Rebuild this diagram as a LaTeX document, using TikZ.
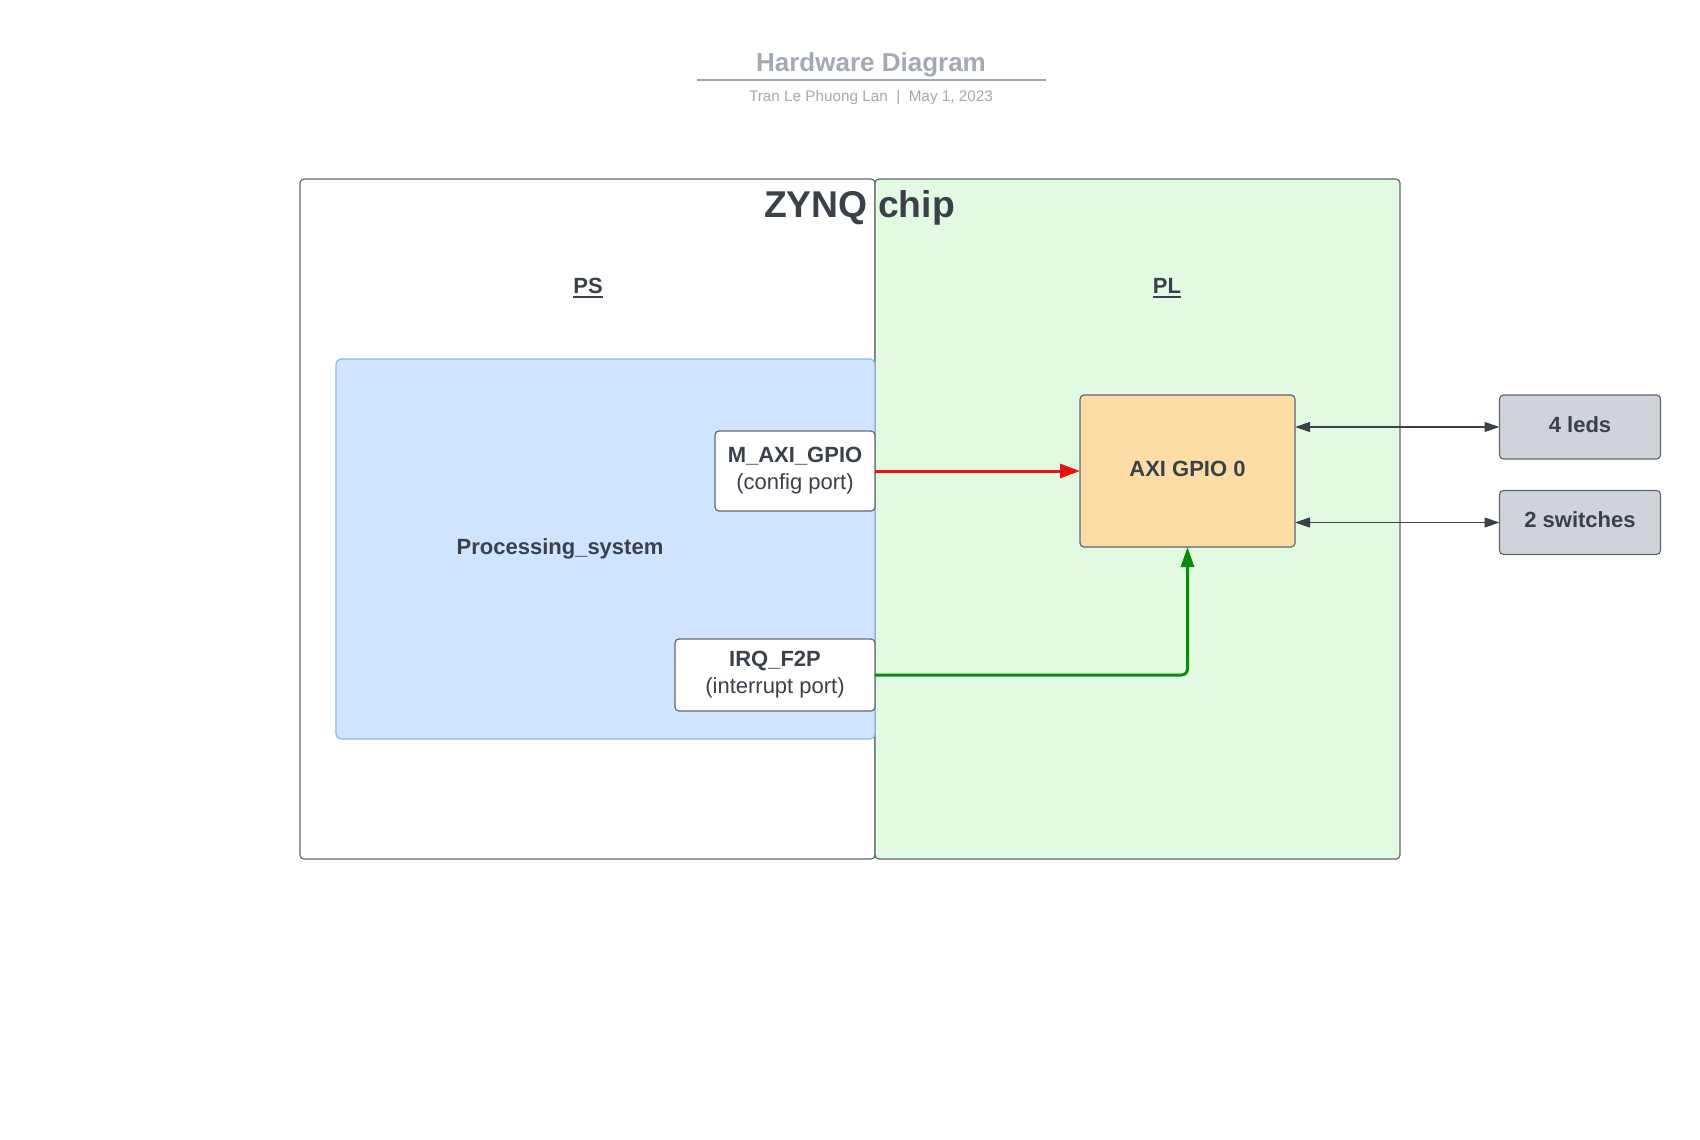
\documentclass[tikz,border=0pt]{standalone}
\usepackage{fontspec}
\setmainfont{Liberation Sans}
\usetikzlibrary{arrows.meta,calc}
\definecolor{txt}{HTML}{3A414A}
\definecolor{ttl}{HTML}{A3A9B3}
\definecolor{edgec}{HTML}{62676F}
\definecolor{plfill}{HTML}{E2FAE2}
\definecolor{bfill}{HTML}{CFE4FF}
\definecolor{bedge}{HTML}{8AB8F2}
\definecolor{ofill}{HTML}{FEDCA6}
\definecolor{gfill}{HTML}{CFD4DB}
\definecolor{redc}{HTML}{E81313}
\definecolor{grnc}{HTML}{0A8A0A}
\begin{document}
\begin{tikzpicture}[x=1pt,y=-1pt,
  box/.style={rectangle, inner sep=0pt, outer sep=0pt, anchor=center, rounded corners=4pt, line width=1.2pt},
  region/.style={box, draw=edgec},
  portbox/.style={box, draw=edgec, fill=white, text=txt, align=center,
     font=\fontsize{22}{27}\selectfont},
  blockbox/.style={box, draw=edgec, text=txt, text depth=5pt, font=\fontsize{22}{27}\selectfont\bfseries},
  lbl/.style={text=txt, inner sep=0pt, anchor=base},
  redline/.style={draw=redc, line width=3pt, -{Triangle[length=20pt,width=14pt]}},
  grnline/.style={draw=grnc, line width=3pt, rounded corners=6pt, -{Triangle[length=20pt,width=13pt]}},
  dbl/.style={draw=txt, line width=1.2pt, {Triangle[length=15pt,width=10pt]}-{Triangle[length=15pt,width=10pt]}}
]
\useasboundingbox (0,0) rectangle (1700,1140);
\fill[white] (0,0) rectangle (1700,1140);

% title block
\node[lbl, text=ttl, font=\fontsize{26}{31}\selectfont\bfseries] (title) at (871,71) {Hardware Diagram};
\draw[ttl, line width=1.6pt] (697,80) -- (1046,80);
\node[lbl, text=ttl, font=\fontsize{15.3}{18}\selectfont] (sub) at (871,101) {Tran Le Phuong Lan\hspace{0.55em}|\hspace{0.55em}May 1, 2023};

% regions
\node[region, fill=white, minimum width=575pt, minimum height=680pt] (ps) at (587.5,519) {};
\node[region, fill=plfill, minimum width=525pt, minimum height=680pt] (pl) at (1137.5,519) {};
\node[box, draw=bedge, fill=bfill, minimum width=539pt, minimum height=380pt, rounded corners=5pt] (psys) at (605.5,549) {};

% labels
\node[lbl, font=\fontsize{37.3}{43}\selectfont\bfseries] (zynq) at (859.5,217) {ZYNQ chip};
\node[lbl, font=\fontsize{22}{27}\selectfont\bfseries] (pslbl) at (588,293) {PS};
\node[lbl, font=\fontsize{22}{27}\selectfont\bfseries] (pllbl) at (1167,293) {PL};
\draw[txt, line width=2pt] ([yshift=-3.5pt]pslbl.base west) -- ([yshift=-3.5pt]pslbl.base east);
\draw[txt, line width=2pt] ([yshift=-3.5pt]pllbl.base west) -- ([yshift=-3.5pt]pllbl.base east);
\node[lbl, font=\fontsize{22}{27}\selectfont\bfseries] (psname) at (560,554) {Processing\_system};

% ports and blocks
\node[portbox, minimum width=160pt, minimum height=80pt] (maxi) at (795,471) {\textbf{M\_AXI\_GPIO}\\(config port)};
\node[portbox, minimum width=200pt, minimum height=72pt] (irq) at (775,675) {\textbf{IRQ\_F2P}\\(interrupt port)};
\node[blockbox, fill=ofill, minimum width=215pt, minimum height=152pt] (axi) at (1187.5,471) {AXI GPIO 0};
\node[blockbox, fill=gfill, minimum width=161pt, minimum height=64pt] (leds) at (1580,427) {4 leds};
\node[blockbox, fill=gfill, minimum width=161pt, minimum height=64pt] (sw) at (1580,522.5) {2 switches};

% connectors
\draw[redline] (maxi.east) -- (axi.west);
\draw[grnline] (irq.east) -- (irq.east -| axi.south) -- (axi.south);
\draw[dbl] (axi.east |- leds.west) -- (leds.west);
\draw[dbl] (axi.east |- sw.west) -- (sw.west);
\end{tikzpicture}
\end{document}
